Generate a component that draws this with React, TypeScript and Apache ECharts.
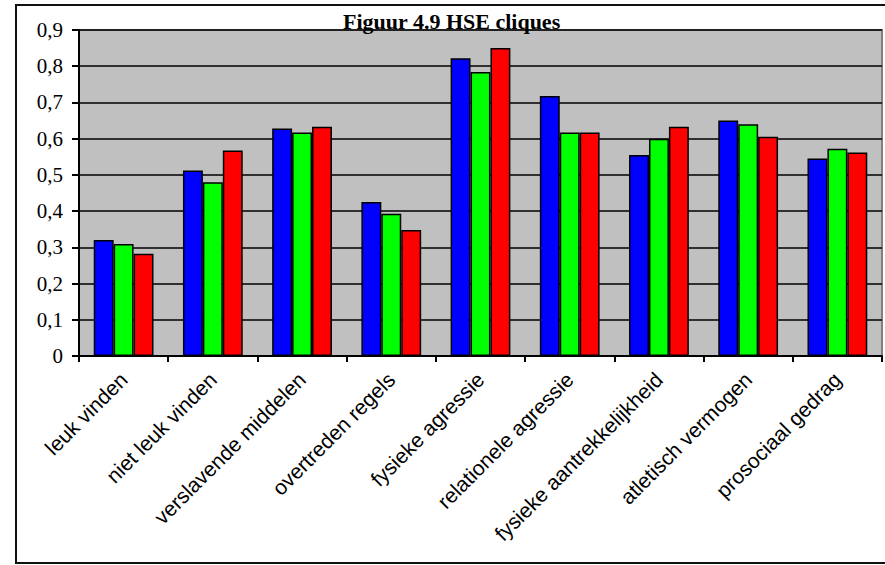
import React, { useEffect, useRef } from "react";
import * as echarts from "echarts";

const categories = [
  "leuk vinden",
  "niet leuk vinden",
  "verslavende middelen",
  "overtreden regels",
  "fysieke agressie",
  "relationele agressie",
  "fysieke aantrekkelijkheid",
  "atletisch vermogen",
  "prosociaal gedrag",
];
const blueValues = [0.32, 0.512, 0.628, 0.425, 0.822, 0.718, 0.555, 0.65, 0.545];
const greenValues = [0.309, 0.48, 0.617, 0.393, 0.784, 0.617, 0.6, 0.64, 0.572];
const redValues = [0.282, 0.567, 0.633, 0.348, 0.85, 0.617, 0.633, 0.605, 0.562];
const titleText = "Figuur 4.9 HSE cliques";

export default function App() {
  const ref = useRef<HTMLDivElement>(null);
  useEffect(() => {
    if (!ref.current) return;
    const chart = echarts.init(ref.current, null, { renderer: "svg" });
    const barStyle = (color: string) => ({
      color,
      borderColor: "#000",
      borderWidth: 1.5,
    });
    chart.setOption({
      animation: false,
      backgroundColor: "#fff",
      title: {
        text: titleText,
        left: 338,
        top: 5,
        textStyle: {
          fontFamily: "Liberation Serif",
          fontWeight: "bold",
          fontSize: 22,
          color: "#000",
        },
      },
      graphic: [
        {
          type: "rect",
          shape: { x: 16, y: 5, width: 880, height: 558 },
          style: { fill: "none", stroke: "#111", lineWidth: 2 },
          z: 100,
        },
      ],
      grid: {
        left: 79,
        top: 30,
        right: 3,
        bottom: 209,
        show: true,
        backgroundColor: "#c0c0c0",
        borderColor: "#808080",
        borderWidth: 2,
      },
      xAxis: {
        type: "category",
        data: categories,
        axisLine: { lineStyle: { color: "#000", width: 2 } },
        axisTick: { show: true, length: 6, lineStyle: { color: "#000", width: 2 } },
        axisLabel: {
          rotate: 45,
          interval: 0,
          margin: 20,
          fontFamily: "Liberation Sans",
          fontSize: 21,
          color: "#000",
        },
      },
      yAxis: {
        type: "value",
        min: 0,
        max: 0.9,
        interval: 0.1,
        axisLine: { show: true, lineStyle: { color: "#000", width: 2 } },
        axisTick: { show: true, length: 7, lineStyle: { color: "#000", width: 2 } },
        axisLabel: {
          margin: 16,
          fontFamily: "Liberation Serif",
          fontSize: 21,
          color: "#000",
          formatter: (v: number) => String(Math.round(v * 10) / 10).replace(".", ","),
        },
        splitLine: { show: true, lineStyle: { color: "#000", width: 1.5 } },
      },
      series: [
        { type: "bar", data: blueValues, itemStyle: barStyle("#0000ff"), barGap: "0%", barCategoryGap: "33%" },
        { type: "bar", data: greenValues, itemStyle: barStyle("#00ff00"), barGap: "0%", barCategoryGap: "33%" },
        { type: "bar", data: redValues, itemStyle: barStyle("#ff0000"), barGap: "0%", barCategoryGap: "33%" },
      ],
    });
    return () => chart.dispose();
  }, []);
  return (
    <div
      ref={ref}
      style={{ position: "absolute", left: 0, top: 0, width: 885, height: 565 }}
    />
  );
}
